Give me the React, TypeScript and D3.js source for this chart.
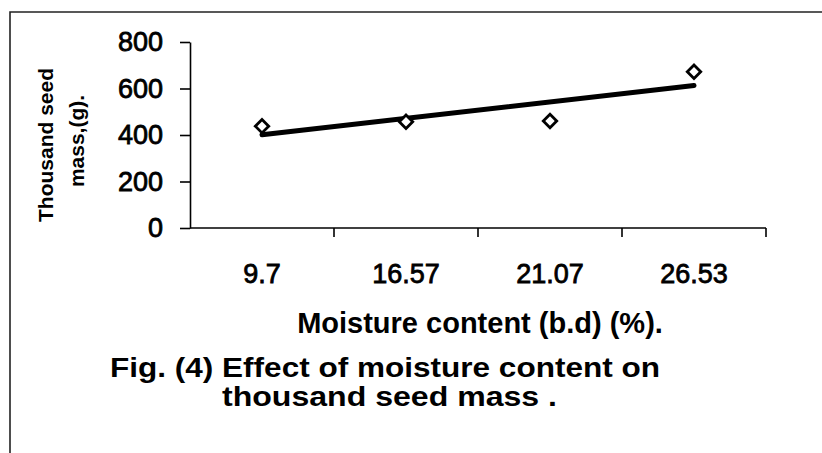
import React, { useEffect, useRef } from 'react';
import * as d3 from 'd3';

const moisture = ['9.7', '16.57', '21.07', '26.53'];
const seedMass = [438, 457, 460, 672];
const yTicks = [0, 200, 400, 600, 800];

const W = 822;
const H = 453;

export default function App() {
  const ref = useRef<SVGSVGElement | null>(null);

  useEffect(() => {
    const svg = d3.select(ref.current);
    svg.selectAll('*').remove();

    const font = '"Liberation Sans", Arial, sans-serif';
    const x = d3.scaleBand<string>().domain(moisture).range([190, 766]).padding(0);
    const y = d3.scaleLinear().domain([0, 800]).range([228, 42]);
    const cx = (d: string) => (x(d) as number) + x.bandwidth() / 2;

    svg.append('rect').attr('width', W).attr('height', H).attr('fill', '#fff');

    // scan frame: only top and left edges show
    svg.append('path')
      .attr('d', `M10,${H} L10,12 L${W},12`)
      .attr('fill', 'none')
      .attr('stroke', '#222')
      .attr('stroke-width', 1.6);

    // y axis
    const yAxis = svg.append('g').attr('transform', 'translate(190,0)')
      .call(d3.axisLeft(y).tickValues(yTicks).tickSize(10).tickSizeOuter(0).tickPadding(17));
    yAxis.select('.domain').attr('stroke', '#000').attr('stroke-width', 1.6);
    yAxis.selectAll('.tick line').attr('stroke', '#000').attr('stroke-width', 1.6);
    yAxis.selectAll('.tick text')
      .attr('fill', '#000')
      .attr('font-size', '27px')
      .attr('font-family', font)
      .attr('stroke', '#000')
      .attr('stroke-width', 0.8);

    // x axis, ticks at band edges
    const xg = svg.append('g');
    xg.append('line')
      .attr('x1', 190).attr('x2', 766).attr('y1', 228).attr('y2', 228)
      .attr('stroke', '#000').attr('stroke-width', 1.6);
    const edges = moisture.map((d) => x(d) as number).concat([x.range()[1]]).slice(1);
    xg.selectAll('line.tk').data(edges).enter().append('line')
      .attr('class', 'tk')
      .attr('x1', (d) => d).attr('x2', (d) => d)
      .attr('y1', 228).attr('y2', 237)
      .attr('stroke', '#000').attr('stroke-width', 1.6);
    xg.selectAll('text').data(moisture).enter().append('text')
      .attr('x', (d) => cx(d))
      .attr('y', 283)
      .attr('text-anchor', 'middle')
      .attr('font-size', '27px')
      .attr('font-family', font)
      .attr('fill', '#000')
      .attr('stroke', '#000')
      .attr('stroke-width', 0.8)
      .text((d) => d);

    // linear trend line from the data
    const idx = seedMass.map((_, i) => i + 1);
    const mx = d3.mean(idx) as number;
    const my = d3.mean(seedMass) as number;
    const slope = d3.sum(idx, (v, i) => (v - mx) * (seedMass[i] - my)) /
      d3.sum(idx, (v) => (v - mx) ** 2);
    const fit = (i: number) => my + slope * (i - mx);
    svg.append('line')
      .attr('x1', cx(moisture[0]))
      .attr('y1', y(fit(1)))
      .attr('x2', cx(moisture[moisture.length - 1]))
      .attr('y2', y(fit(moisture.length)))
      .attr('stroke', '#000')
      .attr('stroke-width', 5)
      .attr('stroke-linecap', 'round');

    // diamond markers
    const diamond = d3.symbol().type(d3.symbolSquare).size(90);
    svg.selectAll('path.pt').data(seedMass).enter().append('path')
      .attr('class', 'pt')
      .attr('d', diamond)
      .attr('transform', (d, i) => `translate(${cx(moisture[i])},${y(d)}) rotate(45)`)
      .attr('fill', '#fff')
      .attr('stroke', '#000')
      .attr('stroke-width', 2.8);

    // axis titles
    const yLab = svg.append('g').attr('font-family', font).attr('font-weight', 'bold')
      .attr('font-size', '21px').attr('fill', '#000').attr('text-anchor', 'middle');
    yLab.append('text')
      .attr('transform', 'translate(53,145) rotate(-90)')
      .text('Thousand seed');
    yLab.append('text')
      .attr('transform', 'translate(84,141) rotate(-90)')
      .text('mass,(g).');

    svg.append('text')
      .attr('x', 480)
      .attr('y', 333)
      .attr('text-anchor', 'middle')
      .attr('font-family', font)
      .attr('font-weight', 'bold')
      .attr('font-size', '29px')
      .attr('fill', '#000')
      .text('Moisture content (b.d) (%).');

    // figure caption
    const cap = svg.append('g').attr('font-family', font).attr('font-weight', 'bold')
      .attr('font-size', '28px').attr('fill', '#000');
    cap.append('text')
      .attr('x', 110).attr('y', 377)
      .attr('textLength', 550).attr('lengthAdjust', 'spacingAndGlyphs')
      .text('Fig. (4) Effect of moisture content on');
    cap.append('text')
      .attr('x', 222).attr('y', 406)
      .attr('textLength', 335).attr('lengthAdjust', 'spacingAndGlyphs')
      .text('thousand seed mass .');
  }, []);

  return (
    <div style={{ position: 'fixed', left: 0, top: 0, width: W, height: H, background: '#fff' }}>
      <svg ref={ref} width={W} height={H} viewBox={`0 0 ${W} ${H}`} style={{ display: 'block' }} />
    </div>
  );
}
